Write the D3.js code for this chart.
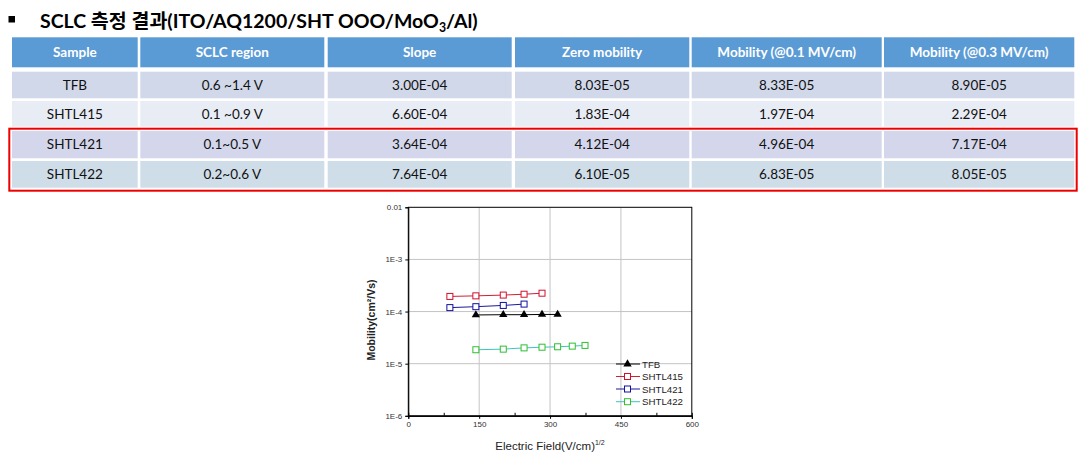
<!DOCTYPE html>
<html><head><meta charset="utf-8">
<script src="https://cdn.jsdelivr.net/npm/d3@7"></script>
<style>body{margin:0;background:#fff}svg{display:block}</style>
</head><body>
<svg id="c" width="1085" height="458"></svg>
<script>
// ---------- data ----------
const columns = ["Sample","SCLC region","Slope","Zero mobility","Mobility (@0.1 MV/cm)","Mobility (@0.3 MV/cm)"];
const samples = ["TFB","SHTL415","SHTL421","SHTL422"];
const regions = ["0.6 ~1.4 V","0.1 ~0.9 V","0.1~0.5 V","0.2~0.6 V"];
const slopes  = ["3.00E-04","6.60E-04","3.64E-04","7.64E-04"];
const zeroMob = ["8.03E-05","1.83E-04","4.12E-04","6.10E-05"];
const mob01   = ["8.33E-05","1.97E-04","4.96E-04","6.83E-05"];
const mob03   = ["8.90E-05","2.29E-04","7.17E-04","8.05E-05"];

const tfbX = [143, 201, 245, 283, 316];
const tfbY = [8.6e-5, 8.7e-5, 8.7e-5, 8.8e-5, 8.8e-5];
const s415X = [88, 143, 201, 245, 283];
const s415Y = [1.95e-4, 2.0e-4, 2.07e-4, 2.15e-4, 2.25e-4];
const s421X = [88, 143, 201, 245];
const s421Y = [1.19e-4, 1.24e-4, 1.31e-4, 1.39e-4];
const s422X = [143, 201, 245, 283, 316, 347, 374];
const s422Y = [1.85e-5, 1.9e-5, 2.01e-5, 2.07e-5, 2.11e-5, 2.17e-5, 2.24e-5];

const xTicks = [0, 150, 300, 450, 600];
const xTickLabels = ["0","150","300","450","600"];
const xMinor = [75, 225, 375, 525];
const yTicks = [1e-6, 1e-5, 1e-4, 1e-3, 1e-2];
const yTickLabels = ["1E-6","1E-5","1E-4","1E-3","0.01"];

const svg = d3.select("#c");

// ---------- title ----------
svg.append("rect").attr("x",8.5).attr("y",16).attr("width",6.5).attr("height",6.5).attr("fill","#000");
const title = svg.append("text").attr("x",40).attr("y",28)
  .attr("font-family","Lato, 'Noto Sans CJK KR', sans-serif").attr("font-weight","bold")
  .attr("font-size",19).attr("fill","#000");
title.append("tspan").text("SCLC 측정 결과(ITO/AQ1200/SHT OOO/MoO");
title.append("tspan").attr("font-size",12).attr("dy",4).text("3");
title.append("tspan").attr("dy",-4).text("/Al)");
{
  const w = title.node().getComputedTextLength();
  const fs = 19 * 438 / w;
  title.attr("font-size", fs);
  title.selectAll("tspan").filter((d,i)=>i===1).attr("font-size", fs*0.63);
}

// ---------- table ----------
const colL = [12, 140.3, 327.7, 515, 691.7, 884];
const colR = [137.7, 324.3, 511.7, 689.3, 881.7, 1074.3];
const rowT = [37.3, 71.7, 101, 131, 161];
const rowB = [67.3, 98.3, 126.7, 158.3, 187.7];
const rowFill = ["#5b9bd5", "#d0d8e9", "#e8ecf4", "#d4d7ec", "#cfdde9"];
const tableRows = [columns].concat(samples.map((s,i)=>[s, regions[i], slopes[i], zeroMob[i], mob01[i], mob03[i]]));
const tg = svg.append("g");
tableRows.forEach((row, r) => {
  row.forEach((txt, c) => {
    tg.append("rect").attr("x",colL[c]).attr("y",rowT[r])
      .attr("width",colR[c]-colL[c]).attr("height",rowB[r]-rowT[r]).attr("fill",rowFill[r]);
    tg.append("text").attr("x",(colL[c]+colR[c])/2).attr("y",(rowT[r]+rowB[r])/2+4.8)
      .attr("text-anchor","middle").attr("font-family","Lato, sans-serif")
      .attr("font-size",13.5).attr("font-weight", r===0?"bold":"normal")
      .attr("fill", r===0?"#ffffff":"#111").text(txt);
  });
});
svg.append("rect").attr("x",9.3).attr("y",128.7).attr("width",1076.7-9.3).attr("height",190.7-128.7)
  .attr("fill","none").attr("stroke","#ee0000").attr("stroke-width",2);

// ---------- chart ----------
const x = d3.scaleLinear().domain([0,600]).range([408.3,691.8]);
const y = d3.scaleLog().domain([1e-6,1e-2]).range([415.8,207.3]);
const cg = svg.append("g");

// grid
cg.selectAll(".gx").data([150,300,450]).join("line")
  .attr("x1",d=>x(d)).attr("x2",d=>x(d)).attr("y1",y(1e-2)).attr("y2",y(1e-6))
  .attr("stroke","#c4c4c4").attr("stroke-width",1);
cg.selectAll(".gy").data([1e-3,1e-4,1e-5]).join("line")
  .attr("y1",d=>y(d)).attr("y2",d=>y(d)).attr("x1",x(0)).attr("x2",x(600))
  .attr("stroke","#c4c4c4").attr("stroke-width",1);

// frame
cg.append("rect").attr("x",x(0)).attr("y",y(1e-2)).attr("width",x(600)-x(0)).attr("height",y(1e-6)-y(1e-2))
  .attr("fill","none").attr("stroke","#000").attr("stroke-width",1);

// axes
const xAxis = cg.append("g").attr("transform",`translate(0,${y(1e-6)})`)
  .call(d3.axisBottom(x).tickValues(xTicks).tickSize(3).tickPadding(3).tickFormat((d,i)=>xTickLabels[i]));
const xMin = cg.append("g").attr("transform",`translate(0,${y(1e-6)})`)
  .call(d3.axisBottom(x).tickValues(xMinor).tickSize(-3).tickFormat(""));
const yAxis = cg.append("g").attr("transform",`translate(${x(0)},0)`)
  .call(d3.axisLeft(y).tickValues(yTicks).tickSize(3).tickPadding(3).tickFormat((d,i)=>yTickLabels[i]));
[xAxis,xMin,yAxis].forEach(a=>{
  a.select(".domain").attr("stroke","#000");
  a.selectAll(".tick line").attr("stroke","#000");
  a.selectAll("text").attr("font-family","'Liberation Sans', Arial, sans-serif").attr("font-size",8).attr("fill","#333");
});

// axis titles
const xt = cg.append("text").attr("x",550).attr("y",450).attr("text-anchor","middle")
  .attr("font-family","'Liberation Sans', Arial, sans-serif").attr("font-size",11.5).attr("fill","#222");
xt.append("tspan").text("Electric Field(V/cm)");
xt.append("tspan").attr("font-size",7).attr("dy",-5).text("1/2");
cg.append("text").attr("transform","translate(375,320) rotate(-90)").attr("text-anchor","middle")
  .attr("font-family","'Liberation Sans', Arial, sans-serif").attr("font-size",10.5).attr("font-weight","bold")
  .attr("fill","#222").text("Mobility(cm²/Vs)");

// series
const series = [
  {name:"TFB", xs:tfbX, ys:tfbY, line:"#000", mark:"#000", tri:true},
  {name:"SHTL415", xs:s415X, ys:s415Y, line:"#cc2233", mark:"#d0102a"},
  {name:"SHTL421", xs:s421X, ys:s421Y, line:"#1a1a9a", mark:"#1010a0"},
  {name:"SHTL422", xs:s422X, ys:s422Y, line:"#3cc6c0", mark:"#2fbf2f"}
];
const line = d3.line().x(d=>x(d[0])).y(d=>y(d[1]));
const tri = d3.symbol().type(d3.symbolTriangle).size(30);
function marker(g, px, py, s){
  if (s.tri) g.append("path").attr("d",tri()).attr("transform",`translate(${px},${py})`).attr("fill",s.mark);
  else g.append("rect").attr("x",px-3).attr("y",py-3).attr("width",6).attr("height",6)
    .attr("fill","#fff").attr("stroke",s.mark).attr("stroke-width",1);
}
series.forEach(s=>{
  const pts = s.xs.map((v,i)=>[v,s.ys[i]]);
  cg.append("path").attr("d",line(pts)).attr("fill","none").attr("stroke",s.line).attr("stroke-width",1);
  pts.forEach(p=>marker(cg, x(p[0]), y(p[1]), s));
});

// legend
const legY = [364, 376.5, 389, 401.7];
series.forEach((s,i)=>{
  const ly = legY[i];
  cg.append("line").attr("x1",616).attr("x2",640).attr("y1",ly).attr("y2",ly).attr("stroke",s.line).attr("stroke-width",1);
  marker(cg, 627.5, ly, s);
  cg.append("text").attr("x",642).attr("y",ly+3.5).attr("font-family","'Liberation Sans', Arial, sans-serif")
    .attr("font-size",9.7).attr("fill","#222").text(s.name);
});
</script>
</body></html>
